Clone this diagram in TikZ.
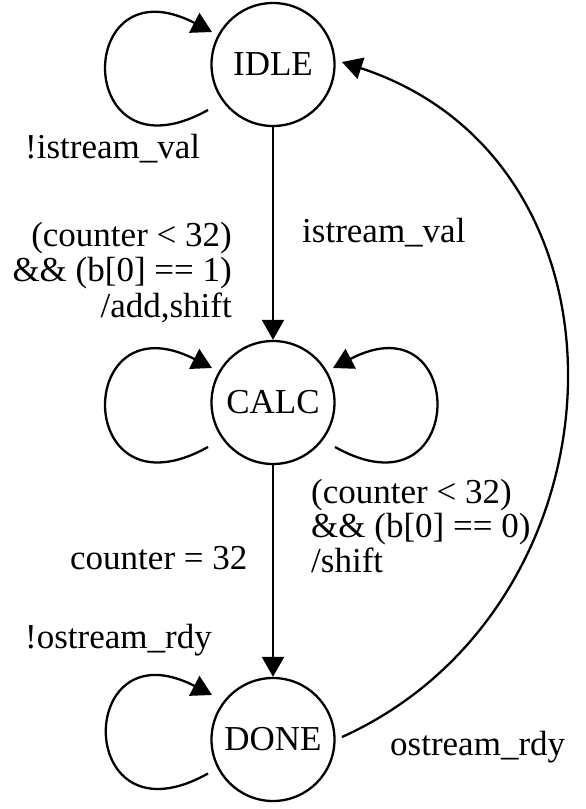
\documentclass[tikz,border=0pt]{standalone}
\usepackage{fontspec}
\setmainfont{Liberation Serif}
\usetikzlibrary{arrows.meta,calc}
\begin{document}
\begin{tikzpicture}[x=1pt,y=-1pt,
  state/.style={circle,draw,line width=2.3pt,minimum size=123pt,inner sep=0pt},
  edge/.style={line width=2.3pt,-{Triangle[length=20pt,width=22pt]}},
  lbl/.style={inner sep=0pt},
  every node/.style={font=\fontsize{35pt}{35.5pt}\selectfont}]
\useasboundingbox (0,0) rectangle (586,809);
\node[state] (IDLE) at (273,64.5) {IDLE};
\node[state] (CALC) at (273,402.5) {CALC};
\node[state] (DONE) at (273,739.5) {DONE};

\draw[edge] (IDLE) -- (CALC);
\draw[edge] (CALC) -- (DONE);
% self loops
\draw[edge] ($(IDLE)+(-65,45.5)$) .. controls ($(IDLE)+(-200,120.5)$) and ($(IDLE)+(-200,-104.5)$) .. ($(IDLE)+(-61,-32.5)$);
\draw[edge] ($(CALC)+(-65,44.5)$) .. controls ($(CALC)+(-200,119.5)$) and ($(CALC)+(-200,-105.5)$) .. ($(CALC)+(-61,-34.5)$);
\draw[edge] ($(CALC)+(62,44.5)$) .. controls ($(CALC)+(196,119.5)$) and ($(CALC)+(196,-105.5)$) .. ($(CALC)+(60,-34.5)$);
\draw[edge] ($(DONE)+(-65,34)$) .. controls ($(DONE)+(-199,109)$) and ($(DONE)+(-199,-116)$) .. ($(DONE)+(-61,-44.5)$);
% long return edge
\draw[edge] ($(DONE)+(69,-2.5)$) .. controls ($(DONE)+(357,-132.5)$) and ($(IDLE)+(377,98.5)$) .. ($(IDLE)+(69,-2.5)$);

% labels
\node[lbl,anchor=base west] (l1) at (25,158) {!istream\_val};
\node[lbl,anchor=base west] (l2) at (302,242) {istream\_val};
\node[lbl,anchor=base east,align=right] (l3) at (232,317) {(counter < 32)\\\&\& (b[0] == 1)\\/add,shift};
\node[lbl,anchor=base west,align=left,font=\fontsize{35pt}{34.5pt}\selectfont] (l4) at (311,572) {(counter < 32)\\\&\& (b[0] == 0)\\/shift};
\node[lbl,anchor=base west] (l5) at (70,569) {counter = 32};
\node[lbl,anchor=base west] (l6) at (25,648) {!ostream\_rdy};
\node[lbl,anchor=base west] (l7) at (390,755) {ostream\_rdy};
\end{tikzpicture}
\end{document}
